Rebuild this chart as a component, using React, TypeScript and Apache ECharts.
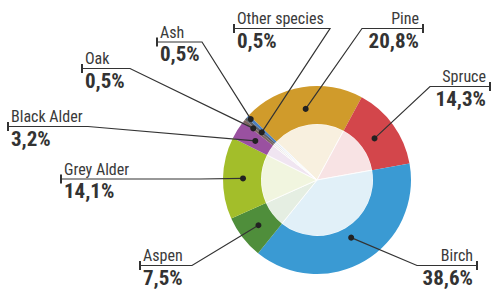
import React, { useEffect, useRef } from 'react';
import * as echarts from 'echarts';

// ---- data ----
const categories = ['Pine', 'Spruce', 'Birch', 'Aspen', 'Grey Alder', 'Black Alder', 'Oak', 'Other species', 'Ash'];
const shares = [20.8, 14.3, 38.6, 7.5, 14.1, 3.2, 0.5, 0.5, 0.5];

// ---- styles / layout ----
const colors = ['#D09B2B', '#D3464B', '#3A9AD3', '#4F8E3B', '#A3BE2A', '#9A51A0', '#7E6560', '#5E6166', '#4C7FBF'];
const CX = 317;
const CY = 180;
const R_IN = 56;
const R_OUT = 94;
const START = 136.5;
const dotRadius = [72, 71, 67, 74, 74, 73, 82, 73, 90];
const anchors = [
  { side: 'right', tick: 423, y: 28.5, elbow: 362 },
  { side: 'right', tick: 490, y: 86.5, elbow: 430 },
  { side: 'right', tick: 477, y: 265.5, elbow: 417 },
  { side: 'left', tick: 140, y: 265.5, elbow: 192 },
  { side: 'left', tick: 61, y: 179, elbow: 200 },
  { side: 'left', tick: 8, y: 126.5, elbow: 88 },
  { side: 'left', tick: 82, y: 68.5, elbow: 130 },
  { side: 'left', tick: 234, y: 28.5, elbow: 330 },
  { side: 'left', tick: 157, y: 42, elbow: 202 },
];
const FONT = "'Roboto Condensed', 'Open Sans Condensed', sans-serif";
const INK = '#333333';

const total = shares.reduce((a, b) => a + b, 0);
const mids: number[] = [];
{
  let acc = 0;
  shares.forEach((v) => {
    mids.push(((acc + v / 2) / total) * 100);
    acc += v;
  });
}

function tint(hex: string, t: number): string {
  const n = parseInt(hex.slice(1), 16);
  const r = (n >> 16) & 255, g = (n >> 8) & 255, b = n & 255;
  const m = (c: number) => Math.round(255 - (255 - c) * t);
  return `rgb(${m(r)},${m(g)},${m(b)})`;
}

export default function App() {
  const ref = useRef<HTMLDivElement>(null);
  useEffect(() => {
    document.body.style.margin = '0';
    if (!ref.current) return;
    const chart = echarts.init(ref.current, null, { renderer: 'svg' });
    const outerData = categories.map((name, i) => ({
      name,
      value: shares[i],
      itemStyle: { color: colors[i] },
    }));
    const innerData = categories.map((name, i) => ({
      name,
      value: shares[i],
      itemStyle: { color: tint(colors[i], 0.15) },
    }));
    chart.setOption({
      animation: false,
      backgroundColor: '#ffffff',
      polar: { center: [CX, CY], radius: R_OUT },
      angleAxis: {
        type: 'value', min: 0, max: 100, startAngle: START, clockwise: true,
        axisLine: { show: false }, axisTick: { show: false }, axisLabel: { show: false }, splitLine: { show: false },
      },
      radiusAxis: {
        type: 'value', min: 0, max: R_OUT,
        axisLine: { show: false }, axisTick: { show: false }, axisLabel: { show: false }, splitLine: { show: false },
      },
      series: [
        {
          type: 'pie',
          center: [CX, CY],
          radius: [0, R_IN],
          startAngle: START,
          silent: true,
          label: { show: false },
          labelLine: { show: false },
          itemStyle: { borderColor: '#ffffff', borderWidth: 0.8 },
          data: innerData,
        },
        {
          type: 'pie',
          center: [CX, CY],
          radius: [R_IN, R_OUT],
          startAngle: START,
          silent: true,
          avoidLabelOverlap: false,
          data: outerData,
          label: {
            show: true,
            position: 'outside',
            formatter: (p: any) => `{n|${p.name}}\n{v|${String(p.value).replace('.', ',')}%}`,
            rich: {
              n: { fontFamily: FONT, fontSize: 16, lineHeight: 20, color: '#3a3a3a' },
              v: { fontFamily: FONT, fontSize: 21, fontWeight: 'bold', lineHeight: 24, color: INK },
            },
          },
          labelLine: { show: false },
          labelLayout: (params: any) => {
            const an = anchors[params.dataIndex];
            return {
              x: an.side === 'left' ? an.tick + 3 : an.tick - 4,
              y: an.y - 20,
              align: an.side === 'left' ? 'left' : 'right',
              verticalAlign: 'top',
            };
          },
        },
        {
          type: 'custom',
          coordinateSystem: 'polar',
          silent: true,
          clip: false,
          z: 10,
          data: categories.map((_, i) => [dotRadius[i], mids[i]]),
          renderItem: (params: any, api: any) => {
            const i = params.dataIndex;
            const an = anchors[i];
            const p = api.coord([api.value(0), api.value(1)]);
            return {
              type: 'group',
              children: [
                {
                  type: 'polyline',
                  shape: { points: [p, [an.elbow, an.y], [an.tick, an.y]] },
                  style: { stroke: INK, lineWidth: 1.2, fill: null },
                },
                {
                  type: 'line',
                  shape: { x1: an.tick, y1: an.y - 4.5, x2: an.tick, y2: an.y + 4.5 },
                  style: { stroke: INK, lineWidth: 2 },
                },
                {
                  type: 'circle',
                  shape: { cx: p[0], cy: p[1], r: 3 },
                  style: { fill: '#222222' },
                },
              ],
            };
          },
        },
      ],
    });
    return () => chart.dispose();
  }, []);
  return <div ref={ref} style={{ width: 492, height: 291 }} />;
}
